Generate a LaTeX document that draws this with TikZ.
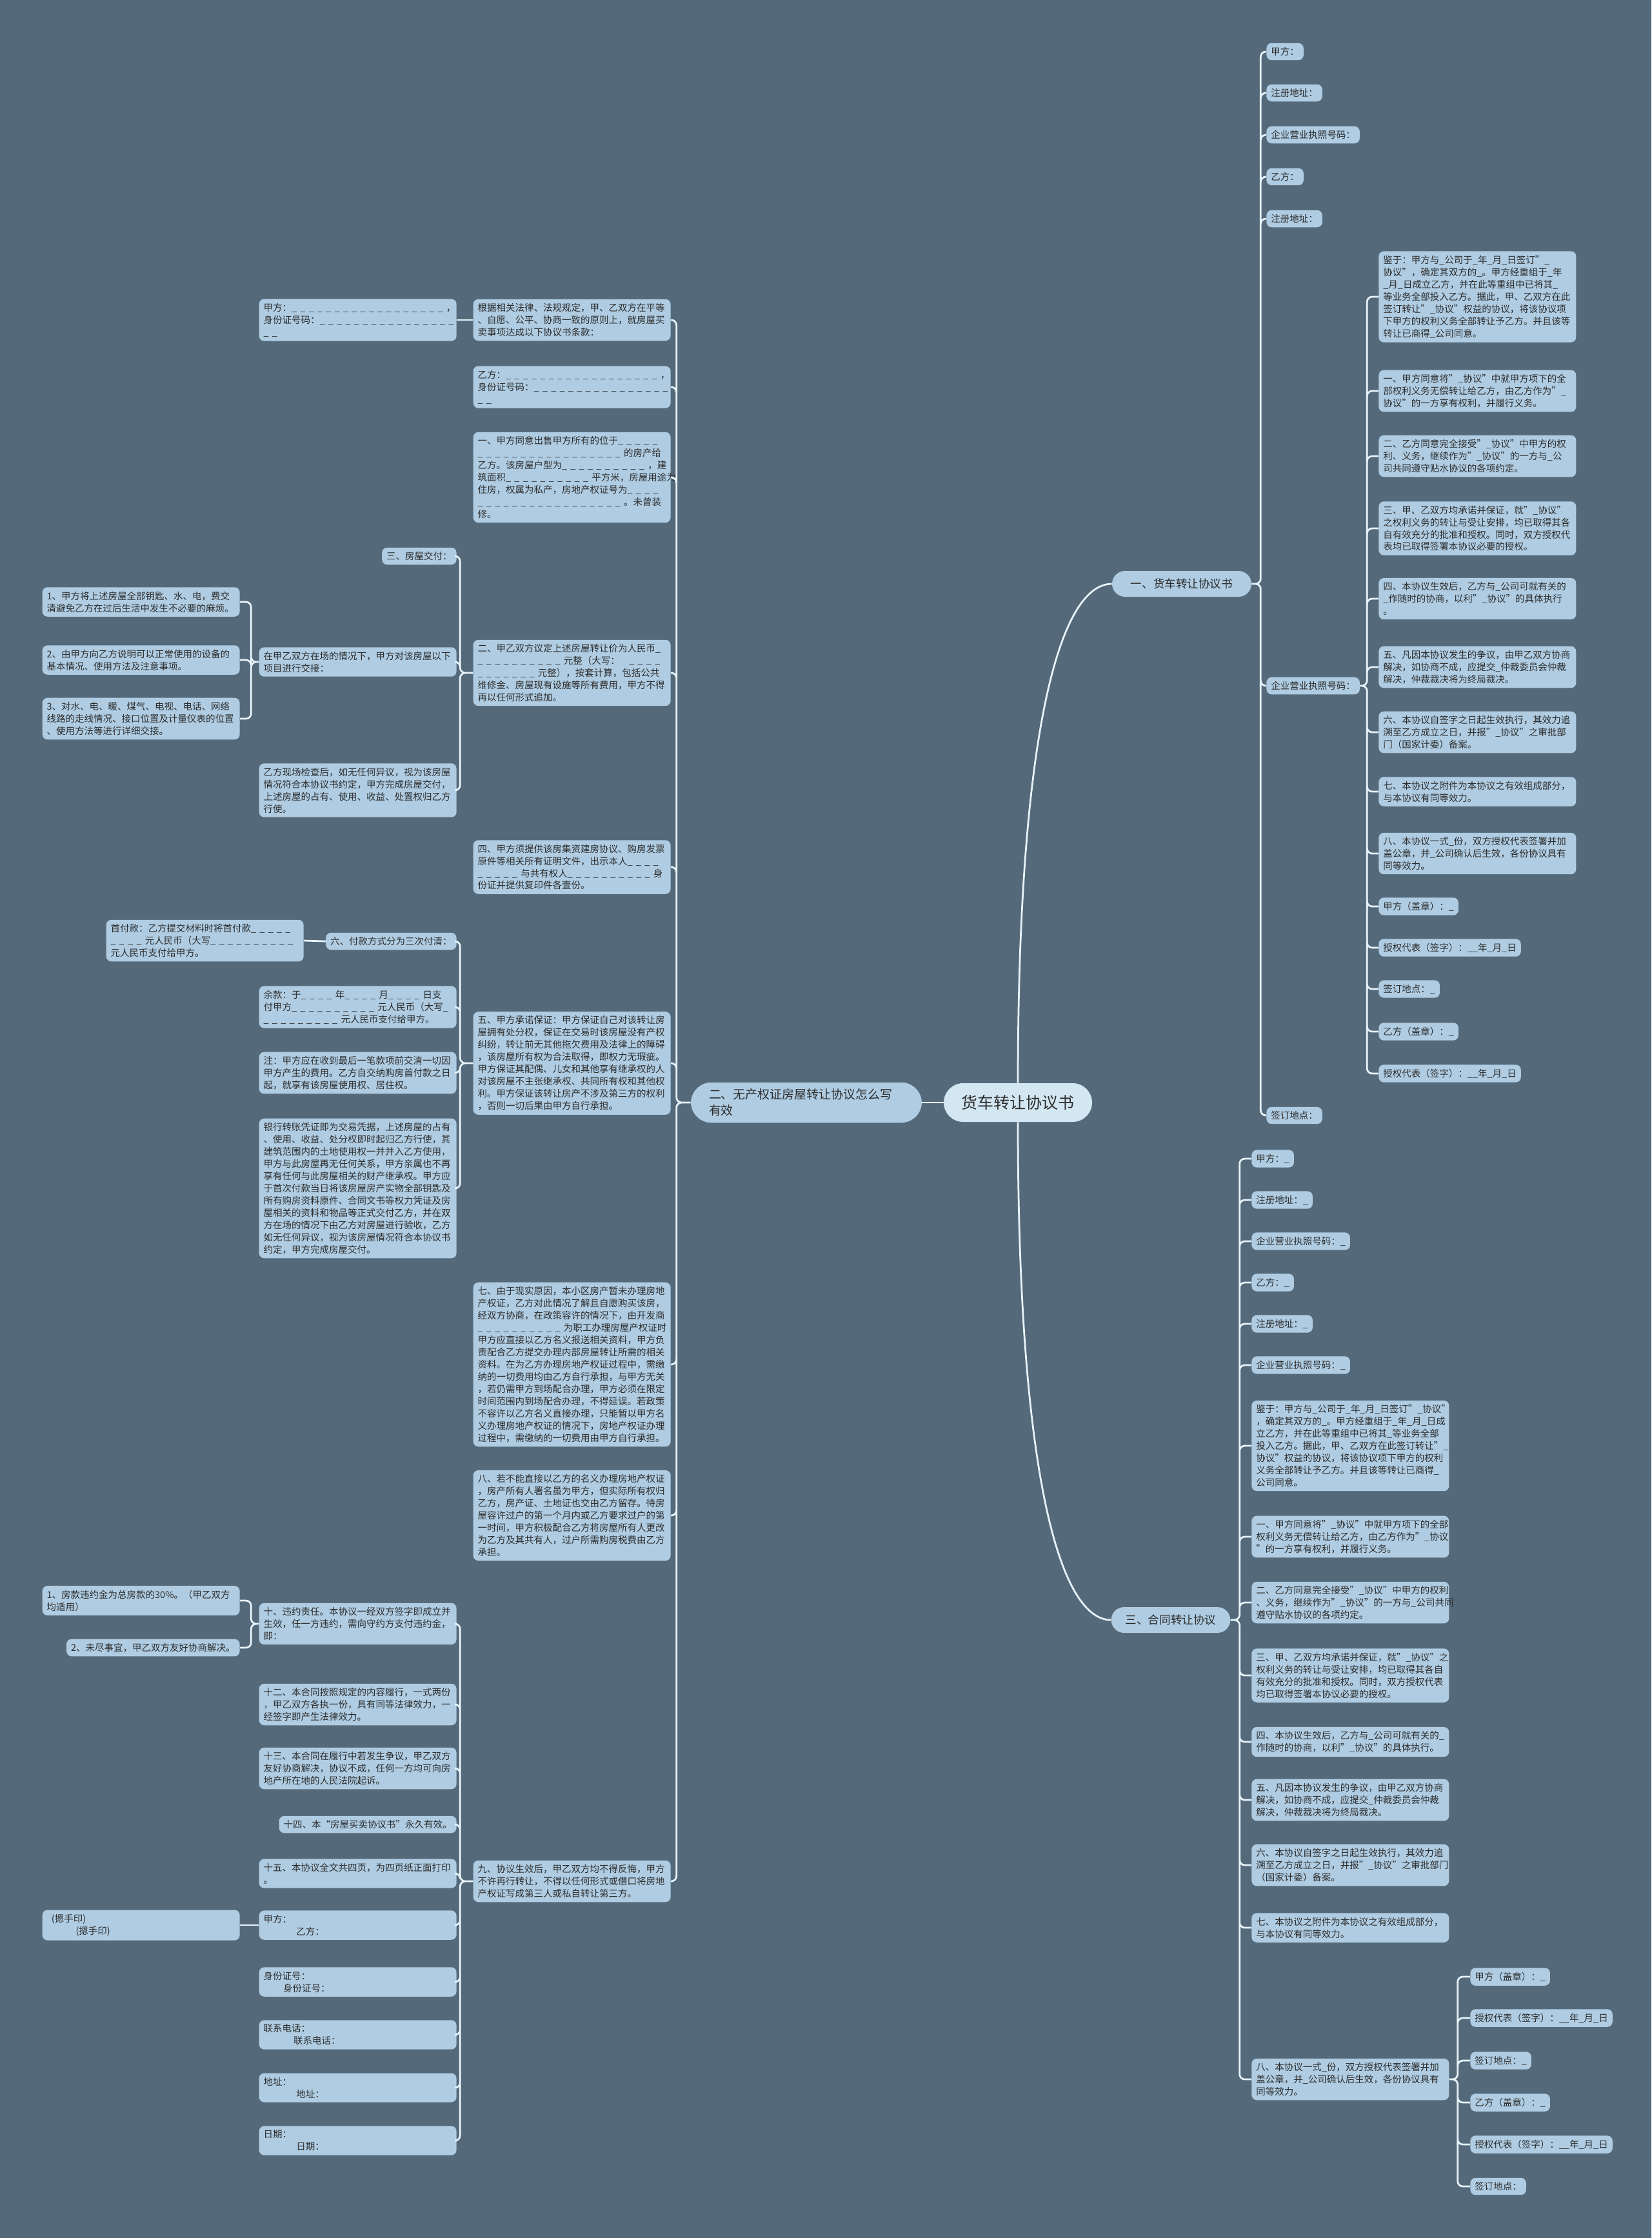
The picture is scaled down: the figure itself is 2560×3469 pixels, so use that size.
\documentclass[tikz,border=0pt]{standalone}
\usepackage{fontspec}
\setmainfont{Noto Sans CJK SC}
\usepackage{tikz}
\definecolor{bgc}{HTML}{546A7B}
\definecolor{cardc}{HTML}{AFCCE2}
\definecolor{rootc}{HTML}{D3E7F3}
\definecolor{linec}{HTML}{E8F3F9}
\definecolor{txtc}{HTML}{2D2D2D}
% spaced blanks as in the form
\newcommand\blk[1]{\foreach\bi in {1,...,#1}{\_\kern0.36em}}
\tikzset{
  rootnode/.style={
    fill=rootc, text=txtc, rounded corners=6mm,
    minimum width=46mm, minimum height=12mm,
    font=\fontsize{14.2pt}{17pt}\selectfont
  },
  topic/.style={
    fill=cardc, text=txtc, rounded corners=4mm, inner xsep=4.4mm,
    minimum height=8mm, font=\fontsize{10pt}{13pt}\selectfont
  },
  lbranch/.style={
    topic, align=left, rounded corners=6.4mm, text width=60.4mm,
    inner xsep=5.6mm, inner ysep=2mm,
    font=\fontsize{10.8pt}{14.2pt}\selectfont
  },
  card/.style={
    fill=cardc, text=txtc, rounded corners=1.6mm, align=left,
    inner xsep=1.4mm, inner ysep=1.3mm,
    font=\fontsize{8.25pt}{10.8pt}\selectfont
  },
  para/.style={card, text width=58.4mm},
  conn/.style={draw=linec, line width=0.55mm, rounded corners=1.6mm},
  elbow/.style={to path={-- ++(#1,0) |- (\tikztotarget)}},
}
\begin{document}
\begin{tikzpicture}[x=0.2mm, y=-0.2mm]
  \fill[bgc] (0,0) rectangle (2560,3469);

  % centre and branches
  \node[rootnode] (root) at (1578,1709) {货车转让协议书};
  \node[lbranch] (lbr) at (1250,1709) {二、无产权证房屋转让协议怎么写\\有效};
  \node[topic, minimum width=43.2mm] (rone) at (1832,905) {一、货车转让协议书};
  \node[topic, minimum width=36.6mm] (rthree) at (1815,2511) {三、合同转让协议};

  % left branch, first column
  \node[para, anchor=east] (lbasis) at (1040,496) {根据相关法律、法规规定，甲、乙双方在平等\\
    、自愿、公平、协商一致的原则上，就房屋买\\
    卖事项达成以下协议书条款：};
  \node[para, anchor=east] (lpartyB) at (1040,600) {乙方：\blk{18}，\\
    身份证号码：\blk{16}\\
    \blk{2}};
  \node[para, anchor=east] (lone) at (1040,740) {一、甲方同意出售甲方所有的位于\blk{5}\\
    \blk{17}的房产给\\
    乙方。该房屋户型为\blk{10}，建\\
    筑面积\blk{10}平方米，房屋用途为\\
    住房，权属为私产，房地产权证号为\blk{4}\\
    \blk{17}。未曾装\\
    修。};
  \node[para, anchor=east] (ltwo) at (1040,1043) {二、甲乙双方议定上述房屋转让价为人民币\blk{1}\\
    \blk{10}元整（大写：\hspace*{1em}\blk{4}\\
    \blk{7}元整），按套计算，包括公共\\
    维修金、房屋现有设施等所有费用，甲方不得\\
    再以任何形式追加。};
  \node[para, anchor=east] (lfour) at (1040,1344) {四、甲方须提供该房集资建房协议、购房发票\\
    原件等相关所有证明文件，出示本人\blk{4}\\
    \blk{5}与共有权人\blk{10}身\\
    份证并提供复印件各壹份。};
  \node[para, anchor=east] (lfive) at (1040,1648) {五、甲方承诺保证：甲方保证自己对该转让房\\
    屋拥有处分权，保证在交易时该房屋没有产权\\
    纠纷，转让前无其他拖欠费用及法律上的障碍\\
    ，该房屋所有权为合法取得，即权力无瑕疵。\\
    甲方保证其配偶、儿女和其他享有继承权的人\\
    对该房屋不主张继承权、共同所有权和其他权\\
    利。甲方保证该转让房产不涉及第三方的权利\\
    ，否则一切后果由甲方自行承担。};
  \node[para, anchor=east] (lseven) at (1040,2115) {七、由于现实原因，本小区房产暂未办理房地\\
    产权证，乙方对此情况了解且自愿购买该房，\\
    经双方协商，在政策容许的情况下，由开发商\\
    \blk{10}为职工办理房屋产权证时\\
    甲方应直接以乙方名义报送相关资料，甲方负\\
    责配合乙方提交办理内部房屋转让所需的相关\\
    资料。在为乙方办理房地产权证过程中，需缴\\
    纳的一切费用均由乙方自行承担，与甲方无关\\
    ，若仍需甲方到场配合办理，甲方必须在限定\\
    时间范围内到场配合办理，不得延误。若政策\\
    不容许以乙方名义直接办理，只能暂以甲方名\\
    义办理房地产权证的情况下，房地产权证办理\\
    过程中，需缴纳的一切费用由甲方自行承担。};
  \node[para, anchor=east] (leight) at (1040,2349) {八、若不能直接以乙方的名义办理房地产权证\\
    ，房产所有人署名虽为甲方，但实际所有权归\\
    乙方，房产证、土地证也交由乙方留存。待房\\
    屋容许过户的第一个月内或乙方要求过户的第\\
    一时间，甲方积极配合乙方将房屋所有人更改\\
    为乙方及其共有人，过户所需购房税费由乙方\\
    承担。};
  \node[para, anchor=east] (lnine) at (1040,2916) {九、协议生效后，甲乙双方均不得反悔，甲方\\
    不许再行转让，不得以任何形式或借口将房地\\
    产权证写成第三人或私自转让第三方。};

  % left branch, second column
  \node[para, anchor=east] (lpartyA) at (708,496) {甲方：\blk{18}，\\
    身份证号码：\blk{16}\\
    \blk{2}};
  \node[card, anchor=east] (ldeliver) at (708,862) {三、房屋交付：};
  \node[para, anchor=east] (lhandover) at (708,1026) {在甲乙双方在场的情况下，甲方对该房屋以下\\
    项目进行交接：};
  \node[para, anchor=east] (lcheck) at (708,1225) {乙方现场检查后，如无任何异议，视为该房屋\\
    情况符合本协议书约定，甲方完成房屋交付，\\
    上述房屋的占有、使用、收益、处置权归乙方\\
    行使。};
  \node[card, anchor=east] (lpay) at (708,1459) {六、付款方式分为三次付清：};
  \node[para, anchor=east] (lrest) at (708,1561) {余款：于\blk{4}年\blk{4}月\blk{4}日支\\
    付甲方\blk{10}元人民币（大写\blk{1}\\
    \blk{9}元人民币支付给甲方。};
  \node[para, anchor=east] (lnote) at (708,1663) {注：甲方应在收到最后一笔款项前交清一切因\\
    甲方产生的费用。乙方自交纳购房首付款之日\\
    起，就享有该房屋使用权、居住权。};
  \node[para, anchor=east] (lbank) at (708,1842) {银行转账凭证即为交易凭据，上述房屋的占有\\
    、使用、收益、处分权即时起归乙方行使，其\\
    建筑范围内的土地使用权一并并入乙方使用，\\
    甲方与此房屋再无任何关系，甲方亲属也不再\\
    享有任何与此房屋相关的财产继承权。甲方应\\
    于首次付款当日将该房屋房产实物全部钥匙及\\
    所有购房资料原件、合同文书等权力凭证及房\\
    屋相关的资料和物品等正式交付乙方，并在双\\
    方在场的情况下由乙方对房屋进行验收，乙方\\
    如无任何异议，视为该房屋情况符合本协议书\\
    约定，甲方完成房屋交付。};
  \node[para, anchor=east] (lten) at (708,2517) {十、违约责任。本协议一经双方签字即成立并\\
    生效，任一方违约，需向守约方支付违约金，\\
    即：};
  \node[para, anchor=east] (ltwelve) at (708,2642) {十二、本合同按照规定的内容履行，一式两份\\
    ，甲乙双方各执一份，具有同等法律效力，一\\
    经签字即产生法律效力。};
  \node[para, anchor=east] (lthirteen) at (708,2741) {十三、本合同在履行中若发生争议，甲乙双方\\
    友好协商解决，协议不成，任何一方均可向房\\
    地产所在地的人民法院起诉。};
  \node[card, anchor=east] (lfourteen) at (708,2828) {十四、本“房屋买卖协议书”永久有效。};
  \node[para, anchor=east] (lfifteen) at (708,2904) {十五、本协议全文共四页，为四页纸正面打印\\
    。};
  \node[para, anchor=east] (lsign) at (708,2984) {甲方：\\\hspace*{3.5em}乙方：};
  \node[para, anchor=east] (lid) at (708,3072) {身份证号：\\\hspace*{2.1em}身份证号：};
  \node[para, anchor=east] (lphone) at (708,3154) {联系电话：\\\hspace*{3.2em}联系电话：};
  \node[para, anchor=east] (laddr) at (708,3236) {地址：\\\hspace*{3.5em}地址：};
  \node[para, anchor=east] (ldate) at (708,3318) {日期：\\\hspace*{3.5em}日期：};

  % left branch, third column
  \node[para, anchor=east] (lkey) at (372,933) {1、甲方将上述房屋全部钥匙、水、电，费交\\
    清避免乙方在过后生活中发生不必要的麻烦。};
  \node[para, anchor=east] (lexplain) at (372,1023) {2、由甲方向乙方说明可以正常使用的设备的\\
    基本情况、使用方法及注意事项。};
  \node[para, anchor=east] (lutil) at (372,1114) {3、对水、电、暖、煤气、电视、电话、网络\\
    线路的走线情况、接口位置及计量仪表的位置\\
    、使用方法等进行详细交接。};
  \node[para, anchor=east] (ldown) at (471,1458) {首付款：乙方提交材料时将首付款\blk{5}\\
    \blk{4}元人民币（大写\blk{10}\\
    元人民币支付给甲方。};
  \node[para, anchor=east] (lpenalty) at (372,2481) {1、房款违约金为总房款的30\%。（甲乙双方\\
    均适用）};
  \node[card, anchor=east] (lother) at (372,2554) {2、未尽事宜，甲乙双方友好协商解决。};
  \node[para, anchor=east] (lthumb) at (372,2984) {\hspace*{0.5em}(摁手印)\\\hspace*{3.1em}(摁手印)};

  % branch one
  \node[card, anchor=west] (aA) at (1963,80) {甲方：};
  \node[card, anchor=west] (aAddrA) at (1963,144) {注册地址：};
  \node[card, anchor=west] (aLicA) at (1963,209) {企业营业执照号码：};
  \node[card, anchor=west] (aB) at (1963,274) {乙方：};
  \node[card, anchor=west] (aAddrB) at (1963,339) {注册地址：};
  \node[card, anchor=west] (aLicB) at (1963,1063) {企业营业执照号码：};
  \node[card, anchor=west] (aPlace) at (1963,1729) {签订地点：};

  \node[para, anchor=west] (aRecital) at (2137,460) {鉴于：甲方与\_公司于\_年\_月\_日签订"\_\\
    协议"，确定其双方的\_。甲方经重组于\_年\\
    \_月\_日成立乙方，并在此等重组中已将其\_\\
    等业务全部投入乙方。据此，甲、乙双方在此\\
    签订转让"\_协议"权益的协议，将该协议项\\
    下甲方的权利义务全部转让予乙方。并且该等\\
    转让已商得\_公司同意。};
  \node[para, anchor=west] (aOne) at (2137,606) {一、甲方同意将"\_协议"中就甲方项下的全\\
    部权利义务无偿转让给乙方，由乙方作为"\_\\
    协议"的一方享有权利，并履行义务。};
  \node[para, anchor=west] (aTwo) at (2137,707) {二、乙方同意完全接受"\_协议"中甲方的权\\
    利、义务，继续作为"\_协议"的一方与\_公\\
    司共同遵守贴水协议的各项约定。};
  \node[para, anchor=west] (aThree) at (2137,819) {三、甲、乙双方均承诺并保证，就"\_协议"\\
    之权利义务的转让与受让安排，均已取得其各\\
    自有效充分的批准和授权。同时，双方授权代\\
    表均已取得签署本协议必要的授权。};
  \node[para, anchor=west] (aFour) at (2137,928) {四、本协议生效后，乙方与\_公司可就有关的\\
    \_作随时的协商，以利"\_协议"的具体执行\\
    。};
  \node[para, anchor=west] (aFive) at (2137,1034) {五、凡因本协议发生的争议，由甲乙双方协商\\
    解决，如协商不成，应提交\_仲裁委员会仲裁\\
    解决，仲裁裁决将为终局裁决。};
  \node[para, anchor=west] (aSix) at (2137,1135) {六、本协议自签字之日起生效执行，其效力追\\
    溯至乙方成立之日，并报"\_协议"之审批部\\
    门（国家计委）备案。};
  \node[para, anchor=west] (aSeven) at (2137,1227) {七、本协议之附件为本协议之有效组成部分，\\
    与本协议有同等效力。};
  \node[para, anchor=west] (aEight) at (2137,1323) {八、本协议一式\_份，双方授权代表签署并加\\
    盖公章，并\_公司确认后生效，各份协议具有\\
    同等效力。};
  \node[card, anchor=west] (aSealA) at (2137,1405) {甲方（盖章）：\_};
  \node[card, anchor=west] (aRepA) at (2137,1469) {授权代表（签字）：\_\_年\_月\_日};
  \node[card, anchor=west] (aSite) at (2137,1533) {签订地点：\_};
  \node[card, anchor=west] (aSealB) at (2137,1599) {乙方（盖章）：\_};
  \node[card, anchor=west] (aRepB) at (2137,1664) {授权代表（签字）：\_\_年\_月\_日};

  % branch three
  \node[card, anchor=west] (cA) at (1940,1796) {甲方：\_};
  \node[card, anchor=west] (cAddrA) at (1940,1860) {注册地址：\_};
  \node[card, anchor=west] (cLicA) at (1940,1924) {企业营业执照号码：\_};
  \node[card, anchor=west] (cB) at (1940,1988) {乙方：\_};
  \node[card, anchor=west] (cAddrB) at (1940,2052) {注册地址：\_};
  \node[card, anchor=west] (cLicB) at (1940,2116) {企业营业执照号码：\_};
  \node[para, anchor=west] (cRecital) at (1940,2241) {鉴于：甲方与\_公司于\_年\_月\_日签订"\_协议"\\
    ，确定其双方的\_。甲方经重组于\_年\_月\_日成\\
    立乙方，并在此等重组中已将其\_等业务全部\\
    投入乙方。据此，甲、乙双方在此签订转让"\_\\
    协议"权益的协议，将该协议项下甲方的权利\\
    义务全部转让予乙方。并且该等转让已商得\_\\
    公司同意。};
  \node[para, anchor=west] (cOne) at (1940,2382) {一、甲方同意将"\_协议"中就甲方项下的全部\\
    权利义务无偿转让给乙方，由乙方作为"\_协议\\
    "的一方享有权利，并履行义务。};
  \node[para, anchor=west] (cTwo) at (1940,2484) {二、乙方同意完全接受"\_协议"中甲方的权利\\
    、义务，继续作为"\_协议"的一方与\_公司共同\\
    遵守贴水协议的各项约定。};
  \node[para, anchor=west] (cThree) at (1940,2597) {三、甲、乙双方均承诺并保证，就"\_协议"之\\
    权利义务的转让与受让安排，均已取得其各自\\
    有效充分的批准和授权。同时，双方授权代表\\
    均已取得签署本协议必要的授权。};
  \node[para, anchor=west] (cFour) at (1940,2700) {四、本协议生效后，乙方与\_公司可就有关的\_\\
    作随时的协商，以利"\_协议"的具体执行。};
  \node[para, anchor=west] (cFive) at (1940,2790) {五、凡因本协议发生的争议，由甲乙双方协商\\
    解决，如协商不成，应提交\_仲裁委员会仲裁\\
    解决，仲裁裁决将为终局裁决。};
  \node[para, anchor=west] (cSix) at (1940,2891) {六、本协议自签字之日起生效执行，其效力追\\
    溯至乙方成立之日，并报"\_协议"之审批部门\\
    （国家计委）备案。};
  \node[para, anchor=west] (cSeven) at (1940,2988) {七、本协议之附件为本协议之有效组成部分，\\
    与本协议有同等效力。};
  \node[para, anchor=west] (cEight) at (1940,3223) {八、本协议一式\_份，双方授权代表签署并加\\
    盖公章，并\_公司确认后生效，各份协议具有\\
    同等效力。};
  \node[card, anchor=west] (cSealA) at (2279,3064) {甲方（盖章）：\_};
  \node[card, anchor=west] (cRepA) at (2279,3128) {授权代表（签字）：\_\_年\_月\_日};
  \node[card, anchor=west] (cSite) at (2279,3194) {签订地点：\_};
  \node[card, anchor=west] (cSealB) at (2279,3259) {乙方（盖章）：\_};
  \node[card, anchor=west] (cRepB) at (2279,3324) {授权代表（签字）：\_\_年\_月\_日};
  \node[card, anchor=west] (cPlace) at (2279,3389) {签订地点：};

  % links from the centre
  \draw[conn] (root.west) -- (lbr.east);
  \draw[conn] (root.north) .. controls (1578,1150) and (1640,905) .. (rone.west);
  \draw[conn] (root.south) .. controls (1578,2270) and (1640,2511) .. (rthree.west);

  % links on the left
  \draw[conn] (lbr.west) to[elbow=-22] (lbasis.east)
    (lbr.west) to[elbow=-22] (lpartyB.east)
    (lbr.west) to[elbow=-22] (lone.east)
    (lbr.west) to[elbow=-22] (ltwo.east)
    (lbr.west) to[elbow=-22] (lfour.east)
    (lbr.west) to[elbow=-22] (lfive.east)
    (lbr.west) to[elbow=-22] (lseven.east)
    (lbr.west) to[elbow=-22] (leight.east)
    (lbr.west) to[elbow=-22] (lnine.east);
  \draw[conn] (lbasis.west) -- (lpartyA.east);
  \draw[conn] (ltwo.west) to[elbow=-20] (ldeliver.east)
    (ltwo.west) to[elbow=-20] (lhandover.east)
    (ltwo.west) to[elbow=-20] (lcheck.east);
  \draw[conn] (lhandover.west) to[elbow=-12] (lkey.east)
    (lhandover.west) to[elbow=-12] (lexplain.east)
    (lhandover.west) to[elbow=-12] (lutil.east);
  \draw[conn] (lfive.west) to[elbow=-20] (lpay.east)
    (lfive.west) to[elbow=-20] (lrest.east)
    (lfive.west) to[elbow=-20] (lnote.east)
    (lfive.west) to[elbow=-20] (lbank.east);
  \draw[conn] (lpay.west) -- (ldown.east);
  \draw[conn] (lnine.west) to[elbow=-20] (lten.east)
    (lnine.west) to[elbow=-20] (ltwelve.east)
    (lnine.west) to[elbow=-20] (lthirteen.east)
    (lnine.west) to[elbow=-20] (lfourteen.east)
    (lnine.west) to[elbow=-20] (lfifteen.east)
    (lnine.west) to[elbow=-20] (lsign.east)
    (lnine.west) to[elbow=-20] (lid.east)
    (lnine.west) to[elbow=-20] (lphone.east)
    (lnine.west) to[elbow=-20] (laddr.east)
    (lnine.west) to[elbow=-20] (ldate.east);
  \draw[conn] (lten.west) to[elbow=-12] (lpenalty.east)
    (lten.west) to[elbow=-12] (lother.east);
  \draw[conn] (lsign.west) -- (lthumb.east);

  % links on the right
  \draw[conn] (rone.east) to[elbow=14] (aA.west)
    (rone.east) to[elbow=14] (aAddrA.west)
    (rone.east) to[elbow=14] (aLicA.west)
    (rone.east) to[elbow=14] (aB.west)
    (rone.east) to[elbow=14] (aAddrB.west)
    (rone.east) to[elbow=14] (aLicB.west)
    (rone.east) to[elbow=14] (aPlace.west);
  \draw[conn] (aLicB.east) to[elbow=11] (aRecital.west)
    (aLicB.east) to[elbow=11] (aOne.west)
    (aLicB.east) to[elbow=11] (aTwo.west)
    (aLicB.east) to[elbow=11] (aThree.west)
    (aLicB.east) to[elbow=11] (aFour.west)
    (aLicB.east) to[elbow=11] (aFive.west)
    (aLicB.east) to[elbow=11] (aSix.west)
    (aLicB.east) to[elbow=11] (aSeven.west)
    (aLicB.east) to[elbow=11] (aEight.west)
    (aLicB.east) to[elbow=11] (aSealA.west)
    (aLicB.east) to[elbow=11] (aRepA.west)
    (aLicB.east) to[elbow=11] (aSite.west)
    (aLicB.east) to[elbow=11] (aSealB.west)
    (aLicB.east) to[elbow=11] (aRepB.west);
  \draw[conn] (rthree.east) to[elbow=14] (cA.west)
    (rthree.east) to[elbow=14] (cAddrA.west)
    (rthree.east) to[elbow=14] (cLicA.west)
    (rthree.east) to[elbow=14] (cB.west)
    (rthree.east) to[elbow=14] (cAddrB.west)
    (rthree.east) to[elbow=14] (cLicB.west)
    (rthree.east) to[elbow=14] (cRecital.west)
    (rthree.east) to[elbow=14] (cOne.west)
    (rthree.east) to[elbow=14] (cTwo.west)
    (rthree.east) to[elbow=14] (cThree.west)
    (rthree.east) to[elbow=14] (cFour.west)
    (rthree.east) to[elbow=14] (cFive.west)
    (rthree.east) to[elbow=14] (cSix.west)
    (rthree.east) to[elbow=14] (cSeven.west)
    (rthree.east) to[elbow=14] (cEight.west);
  \draw[conn] (cEight.east) to[elbow=13] (cSealA.west)
    (cEight.east) to[elbow=13] (cRepA.west)
    (cEight.east) to[elbow=13] (cSite.west)
    (cEight.east) to[elbow=13] (cSealB.west)
    (cEight.east) to[elbow=13] (cRepB.west)
    (cEight.east) to[elbow=13] (cPlace.west);
\end{tikzpicture}
\end{document}
